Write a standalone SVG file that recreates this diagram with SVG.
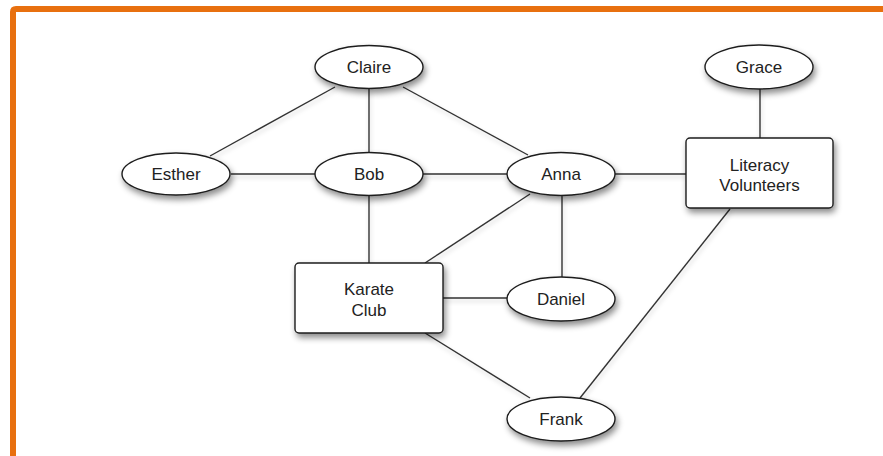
<svg xmlns="http://www.w3.org/2000/svg" width="883" height="456" viewBox="0 0 883 456">
  <defs>
    <filter id="shadow" x="-30%" y="-30%" width="160%" height="180%">
      <feDropShadow dx="2" dy="4" stdDeviation="3" flood-color="#000" flood-opacity="0.45"/>
    </filter>
    <filter id="lineShadow" x="-10%" y="-10%" width="120%" height="120%">
      <feDropShadow dx="1" dy="3" stdDeviation="2" flood-color="#000" flood-opacity="0.18"/>
    </filter>
  </defs>
  <style>
    .node { fill: #ffffff; stroke: #1e1e1e; stroke-width: 1.4; }
    .label { font-family: "Liberation Sans", Arial, sans-serif; font-size: 17px; fill: #222; text-anchor: middle; }
    .edge { stroke: #333; stroke-width: 1.4; fill: none; }
  </style>

  <rect width="883" height="456" fill="#ffffff"/>
  <!-- orange frame -->
  <path d="M13 460 V12 Q13 9 16 9 H890" fill="none" stroke="#E8700F" stroke-width="6"/>

  <g id="connectors" filter="url(#lineShadow)">
    <line class="edge" x1="335" y1="87" x2="210" y2="156"/>
    <line class="edge" x1="369" y1="89" x2="369" y2="152"/>
    <line class="edge" x1="403" y1="87" x2="528" y2="155"/>
    <line class="edge" x1="231" y1="174" x2="315" y2="174"/>
    <line class="edge" x1="423" y1="174" x2="508" y2="174"/>
    <line class="edge" x1="615" y1="174" x2="686" y2="174"/>
    <line class="edge" x1="760" y1="89" x2="760" y2="138"/>
    <line class="edge" x1="369" y1="196" x2="369" y2="263"/>
    <line class="edge" x1="530" y1="194" x2="425" y2="263"/>
    <line class="edge" x1="562" y1="196" x2="562" y2="277"/>
    <line class="edge" x1="443" y1="298" x2="508" y2="298"/>
    <line class="edge" x1="425" y1="333" x2="530" y2="398"/>
    <line class="edge" x1="730" y1="209" x2="580" y2="398"/>
  </g>

  <g id="claire">
    <ellipse class="node" cx="369" cy="67" rx="54" ry="21.5" filter="url(#shadow)"/>
    <text class="label" x="369" y="73">Claire</text>
  </g>
  <g id="grace">
    <ellipse class="node" cx="759" cy="67" rx="54" ry="22" filter="url(#shadow)"/>
    <text class="label" x="759" y="73">Grace</text>
  </g>
  <g id="esther">
    <ellipse class="node" cx="176" cy="174" rx="54" ry="21" filter="url(#shadow)"/>
    <text class="label" x="176" y="180">Esther</text>
  </g>
  <g id="bob">
    <ellipse class="node" cx="369" cy="174" rx="54" ry="21.5" filter="url(#shadow)"/>
    <text class="label" x="369" y="180">Bob</text>
  </g>
  <g id="anna">
    <ellipse class="node" cx="561" cy="174" rx="54" ry="21.5" filter="url(#shadow)"/>
    <text class="label" x="561" y="180">Anna</text>
  </g>
  <g id="literacy-volunteers">
    <rect class="node" x="686" y="138" width="147" height="70" rx="4" filter="url(#shadow)"/>
    <text class="label" x="759.5" y="171">Literacy</text>
    <text class="label" x="759.5" y="191">Volunteers</text>
  </g>
  <g id="karate-club">
    <rect class="node" x="295" y="263" width="148" height="70" rx="4" filter="url(#shadow)"/>
    <text class="label" x="369" y="295">Karate</text>
    <text class="label" x="369" y="316">Club</text>
  </g>
  <g id="daniel">
    <ellipse class="node" cx="561" cy="299" rx="54" ry="22" filter="url(#shadow)"/>
    <text class="label" x="561" y="305">Daniel</text>
  </g>
  <g id="frank">
    <ellipse class="node" cx="561" cy="419" rx="54" ry="22" filter="url(#shadow)"/>
    <text class="label" x="561" y="425">Frank</text>
  </g>
</svg>
